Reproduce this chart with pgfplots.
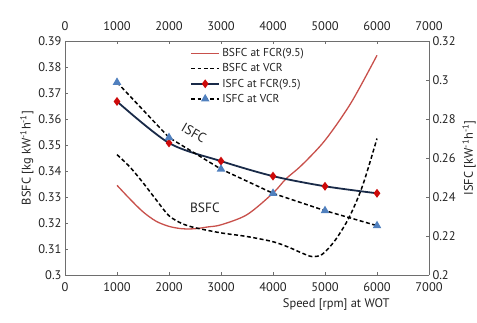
\documentclass[border=0pt]{standalone}
\usepackage{pgfplots}
\pgfplotsset{compat=1.18}
\usepackage{fontspec}
\setmainfont{PT Sans}
\definecolor{redc}{RGB}{200,80,75}
\definecolor{navy}{RGB}{25,42,72}
\definecolor{dred}{RGB}{205,10,10}
\definecolor{tblue}{RGB}{80,128,190}
\definecolor{axgray}{RGB}{110,110,110}
\definecolor{txt}{RGB}{35,35,35}
\begin{document}
\begin{tikzpicture}
\pgfplotsset{
  every axis/.append style={
    scale only axis, width=364bp, height=234bp,
    xmin=0, xmax=7000,
    font=\fontsize{12.5}{14}\selectfont,
    tick label style={font=\fontsize{12.5}{14}\selectfont, text=txt},
    label style={font=\fontsize{12.5}{14}\selectfont, text=txt},
    /pgf/number format/assume math mode=true,
    /pgf/number format/1000 sep={},
    axis line style={axgray, line width=1pt},
    major tick style={axgray, line width=0.6pt},
    major tick length=3bp,
    xtick={0,1000,2000,3000,4000,5000,6000,7000},
  },
  dashblack/.style={black, line width=1.5pt, dash pattern=on 4pt off 2.5pt},
}
\begin{axis}[name=ax,
  axis x line*=bottom, axis y line*=left,
  ymin=0.3, ymax=0.39,
  ytick={0.3,0.31,0.32,0.33,0.34,0.35,0.36,0.37,0.38,0.39},
  yticklabel style={/pgf/number format/fixed, /pgf/number format/precision=2},
  xticklabel style={yshift=-4bp},
  xlabel={Speed [rpm] at WOT},
  xlabel style={at={(rel axis cs:0.745,0)}, anchor=north, yshift=-20bp},
  ylabel={BSFC [kg kW\textsuperscript{-1}h\textsuperscript{-1}]},
  ylabel style={yshift=-2bp},
  clip=false,
]
\addplot[redc, line width=1.3pt, smooth] coordinates {
(1000,0.3345) (1250,0.3292) (1500,0.3243) (1750,0.3207) (2000,0.3187) (2250,0.3178)
(2500,0.3178) (2750,0.3185) (3000,0.3193) (3500,0.3232) (4000,0.3315) (4250,0.3370)
(4550,0.3422) (5000,0.3518) (5500,0.3662) (6000,0.3845)};
\addplot[dashblack, smooth] coordinates {
(1000,0.3463) (1250,0.3415) (1500,0.3355) (1750,0.3290) (2000,0.3228) (2250,0.3198)
(2500,0.3182) (3000,0.3162) (3500,0.3148) (4000,0.3128) (4300,0.3107) (4550,0.3085)
(4750,0.3071) (4950,0.3080) (5200,0.3135) (5465,0.3222) (5720,0.3342) (6000,0.3525)};
\node[rotate=-30, font=\fontsize{13.5}{15}\selectfont, text=txt] at (axis cs:2480,0.3545) {ISFC};
\node[font=\fontsize{13.5}{15}\selectfont, text=txt] at (axis cs:2690,0.3258) {BSFC};
\end{axis}
\begin{axis}[
  axis x line*=top, axis y line*=right,
  ymin=0.2, ymax=0.32,
  ytick={0.2,0.22,0.24,0.26,0.28,0.3,0.32},
  yticklabel style={/pgf/number format/fixed, /pgf/number format/precision=2},
  xticklabel style={yshift=7bp},
  ylabel={ISFC [kW\textsuperscript{-1}h\textsuperscript{-1}]},
  legend style={at={(rel axis cs:0.335,0.985)}, anchor=north west, draw=none, fill=none,
    font=\fontsize{11.5}{13}\selectfont, text=txt, row sep=1.5pt},
  legend cell align=left,
  legend image code/.code={\draw[mark repeat=2,mark phase=2] plot coordinates {(0cm,0cm) (0.5cm,0cm) (1cm,0cm)};},
]
\addlegendimage{redc, line width=1.3pt}
\addlegendentry{BSFC at FCR(9.5)}
\addlegendimage{dashblack}
\addlegendentry{BSFC at VCR}
\addplot[navy, line width=1.8pt, smooth, mark=diamond*, mark size=3pt,
  mark options={solid, fill=dred, draw=dred}] coordinates {
(1000,0.2890) (2000,0.2677) (3000,0.2584) (4000,0.2507) (5000,0.2455) (6000,0.2419)};
\addlegendentry{ISFC at FCR(9.5)}
\addplot[dashblack, mark=triangle*, mark size=3.5pt,
  mark options={solid, fill=tblue, draw=tblue}] coordinates {
(1000,0.2988) (2000,0.2705) (3000,0.2543) (4000,0.2419) (5000,0.2330) (6000,0.2253)};
\addlegendentry{ISFC at VCR}
\end{axis}
\pgfresetboundingbox
\path[use as bounding box] ([xshift=-65bp,yshift=-47bp]ax.south west) rectangle ([xshift=48bp,yshift=41bp]ax.north east);
\end{tikzpicture}
\end{document}
